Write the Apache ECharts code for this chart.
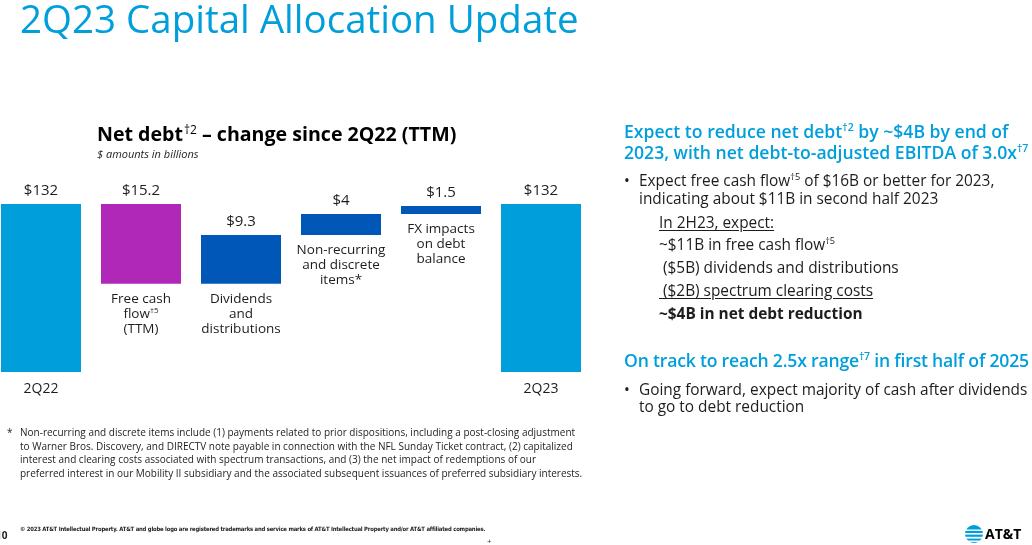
<!DOCTYPE html>
<html>
<head>
<meta charset="utf-8">
<script src="https://cdn.jsdelivr.net/npm/echarts@6/dist/echarts.min.js"></script>
<style>
  html, body { margin: 0; padding: 0; background: #fff; }
  body { width: 1032px; height: 545px; position: relative; overflow: hidden; font-family: "Open Sans", "Noto Sans", sans-serif; color: #1d1d1d; }
  #chart { position: absolute; left: 0; top: 0; width: 1032px; height: 545px; }
  .t { position: absolute; white-space: nowrap; }
  sup { font-size: 0.6em; line-height: 0; vertical-align: 0.7em; }
  .head { color: #009FDB; font-weight: 600; font-size: 17.6px; }
  .body { font-size: 15.4px; }
  .u { text-decoration: underline; text-underline-offset: 2px; }
</style>
</head>
<body>
<div id="chart"></div>
<div class="t" style="left:20px; top:-8px; font-size:38.5px; color:#009FDB; letter-spacing:0px;">2Q23 Capital Allocation Update</div>

<div class="t head" style="left:624px; top:121px; line-height:21px;">Expect to reduce net debt<sup>†2</sup> by ~$4B by end of<br>2023, with net debt-to-adjusted EBITDA of 3.0x<sup>†7</sup></div>
<div class="t body" style="left:624px; top:172px; line-height:18px;">•</div>
<div class="t body" style="left:639px; top:172px; line-height:18px;">Expect free cash flow<sup>†5</sup> of $16B or better for 2023,<br>indicating about $11B in second half 2023</div>
<div class="t body" style="left:659px; top:213px; line-height:20px;"><span class="u">In 2H23, expect:</span></div>
<div class="t body" style="left:659px; top:235px; line-height:20px;">~$11B in free cash flow<sup>†5</sup></div>
<div class="t body" style="left:659px; top:258px; line-height:20px;">&nbsp;($5B) dividends and distributions</div>
<div class="t body" style="left:659px; top:281px; line-height:20px;"><span class="u">&nbsp;($2B) spectrum clearing costs</span></div>
<div class="t body" style="left:659px; top:304px; line-height:20px; font-weight:700;">~$4B in net debt reduction</div>
<div class="t head" style="left:624px; top:350px; line-height:21px; letter-spacing:-0.2px;">On track to reach 2.5x range<sup>†7</sup> in first half of 2025</div>
<div class="t body" style="left:624px; top:381px; line-height:17px;">•</div>
<div class="t body" style="left:639px; top:381px; line-height:17px;">Going forward, expect majority of cash after dividends<br>to go to debt reduction</div>

<div class="t" style="left:7px; top:426px; font-size:10px; line-height:13.5px;">*</div>
<div class="t" style="left:20px; top:426px; font-size:10px; line-height:13.5px;">Non-recurring and discrete items include (1) payments related to prior dispositions, including a post-closing adjustment<br>to Warner Bros. Discovery, and DIRECTV note payable in connection with the NFL Sunday Ticket contract, (2) capitalized<br>interest and clearing costs associated with spectrum transactions, and (3) the net impact of redemptions of our<br>preferred interest in our Mobility II subsidiary and the associated subsequent issuances of preferred subsidiary interests.</div>

<div class="t" style="left:20px; top:526px; font-size:5.9px; font-weight:700; letter-spacing:-0.2px; font-family:'Liberation Sans Narrow','DejaVu Sans Condensed',sans-serif;">© 2023 AT&amp;T Intellectual Property. AT&amp;T and globe logo are registered trademarks and service marks of AT&amp;T Intellectual Property and/or AT&amp;T affiliated companies.</div>
<div class="t" style="left:-4px; top:528px; font-size:10px; font-weight:700;">10</div>
<div class="t" style="left:487px; top:535px; font-size:8px; color:#333;">+</div>
<div class="t" style="left:985px; top:524px; font-size:14px; font-weight:700; color:#000;">AT&amp;T</div>

<script>
// ---- data ----
var categories = ['2Q22', 'Free cash flow', 'Dividends and distributions', 'Non-recurring and discrete items', 'FX impacts on debt balance', '2Q23'];
var totals = [132, null, null, null, null, 132];          // total bars (start / end)
var changes = [null, -15.2, 9.3, 4, 1.5, null];          // net debt changes (billions)
var innerLabels = ['', 'Free cash\nflow{s|†5}\n(TTM)', 'Dividends\nand\ndistributions', 'Non-recurring\nand discrete\nitems*', 'FX impacts\non debt\nbalance', ''];
var barColors = ['#009FDB', '#AF28B8', '#0057B8', '#0057B8', '#0057B8', '#009FDB'];

// ---- waterfall layout from data ----
var baseData = [], visData = [], running = 0;
for (var i = 0; i < categories.length; i++) {
  if (totals[i] != null) {
    running = totals[i];
    baseData.push(0);
    visData.push({ value: totals[i], raw: totals[i], itemStyle: { color: barColors[i] } });
  } else {
    var c = changes[i];
    var lo = c < 0 ? running + c : running;
    baseData.push({ value: lo, idx: i });
    visData.push({ value: Math.abs(c), raw: c, itemStyle: { color: barColors[i] } });
    running += c;
  }
}

var chart = echarts.init(document.getElementById('chart'), null, { renderer: 'canvas' });
var font = '"Open Sans", "Noto Sans", sans-serif';
chart.setOption({
  animation: false,
  title: {
    text: 'Net debt{s|†2}– change since 2Q22 (TTM)',
    left: 92, top: 120,
    textStyle: {
      fontFamily: font, fontSize: 19.6, fontWeight: 'bold', color: '#000',
      rich: { s: { fontFamily: font, fontSize: 12, fontWeight: 'normal', color: '#000', verticalAlign: 'top', padding: [0, 5, 8, 1] } }
    },
    subtext: '$ amounts in billions',
    itemGap: 4,
    subtextStyle: { fontFamily: font, fontSize: 11, fontStyle: 'italic', color: '#1d1d1d', padding: [0, 0, 0, 11] }
  },
  grid: { left: -9, width: 600, top: 162, height: 210, outerBoundsMode: 'none', containLabel: false },
  xAxis: {
    type: 'category', data: categories,
    axisLine: { show: false }, axisTick: { show: false },
    axisLabel: {
      fontFamily: font, fontSize: 14, color: '#1d1d1d', margin: 10,
      formatter: function (v, i) { return totals[i] != null ? categories[i] : ''; }
    }
  },
  yAxis: { type: 'value', min: 100, max: 140, show: false, splitLine: { show: false } },
  series: [
    {
      type: 'bar', stack: 'w', barWidth: 80, data: baseData, silent: true,
      itemStyle: { color: 'rgba(0,0,0,0)' },
      label: {
        show: true, position: 'insideTop', distance: 8,
        fontFamily: font, fontSize: 13.5, lineHeight: 15, color: '#1d1d1d', align: 'center',
        formatter: function (p) { return innerLabels[p.dataIndex]; },
        rich: { s: { fontFamily: font, fontSize: 8, color: '#1d1d1d', verticalAlign: 'top', lineHeight: 15 } }
      }
    },
    {
      type: 'bar', stack: 'w', barWidth: 80, data: visData,
      label: {
        show: true, position: 'top', distance: 6,
        fontFamily: font, fontSize: 15, color: '#1d1d1d',
        formatter: function (p) { return '$' + Math.abs(p.data.raw); }
      }
    }
  ],
  graphic: [
    { type: 'circle', shape: { cx: 974, cy: 534, r: 9 }, style: { fill: '#009FDB' } },
    { type: 'rect', shape: { x: 964, y: 529.5, width: 20, height: 1.4 }, style: { fill: '#fff' } },
    { type: 'rect', shape: { x: 964, y: 533, width: 20, height: 1.6 }, style: { fill: '#fff' } },
    { type: 'rect', shape: { x: 964, y: 536.8, width: 20, height: 1.8 }, style: { fill: '#fff' } },
    { type: 'rect', shape: { x: 964, y: 540.5, width: 20, height: 1.4 }, style: { fill: '#fff' } }
  ]
});
</script>
</body>
</html>
